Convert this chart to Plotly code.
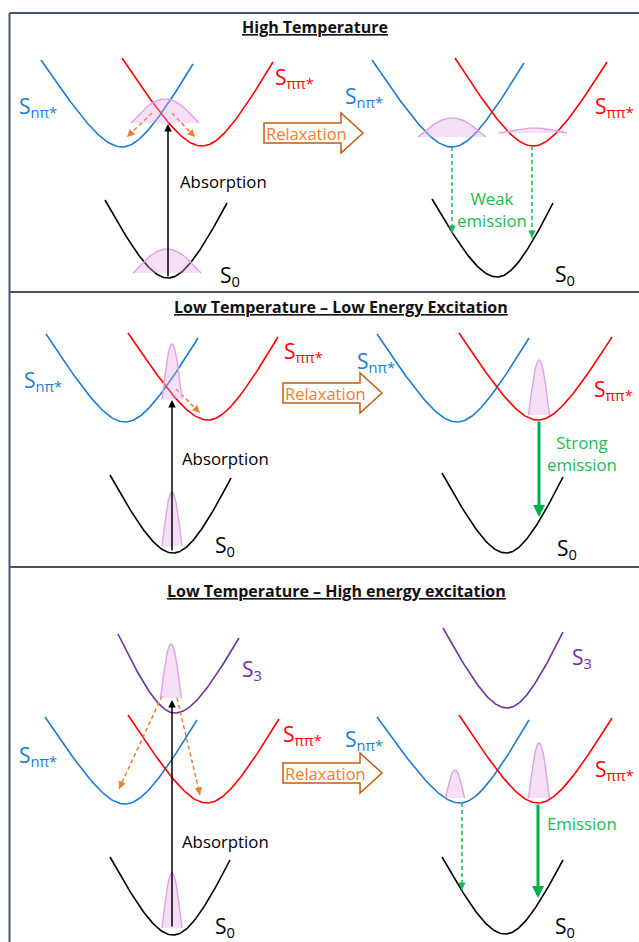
import numpy as np
import plotly.graph_objects as go

W, H = 639, 942

# ---------------- data ----------------
# potential-energy wells: left end, minimum, right end (pixel-space diagram coords)
well_state = ["nπ", "ππ", "S0", "nπ", "ππ", "S0",
              "nπ", "ππ", "S0", "nπ", "ππ", "S0",
              "S3", "nπ", "ππ", "S0", "S3", "nπ", "ππ", "S0"]
well_left_x = [41, 122, 105, 372, 455, 432, 46, 128, 110, 377, 459, 442, 118, 45, 128, 110, 443, 377, 459, 442]
well_left_y = [60, 58, 200, 60, 58, 199, 334, 333, 475, 334, 333, 473, 634, 717, 715, 857, 628, 717, 715, 857]
well_min_x = [122, 202, 168, 452, 533, 497, 125, 208, 173, 457, 538, 506, 175, 125, 207, 173, 507, 460, 538, 505]
well_min_y = [147, 146, 278, 147, 146, 277, 422, 420, 553, 422, 420, 553, 713, 804, 803, 935, 708, 803, 803, 934]
well_right_x = [193, 273, 227, 524, 607, 553, 198, 278, 231, 529, 612, 563, 239, 197, 279, 230, 563, 529, 612, 563]
well_right_y = [64, 62, 203, 63, 62, 203, 338, 337, 478, 338, 337, 477, 638, 720, 719, 860, 632, 720, 718, 860]

# vibrational population bumps: centre, half-width, base level, peak level
pop_center = [165, 167, 452, 533, 172, 172, 539, 171, 172, 455, 539]
pop_halfw = [34, 34, 34, 34, 10, 10, 10.5, 10.5, 10, 9.5, 10.5]
pop_base = [123, 273, 137, 133, 399, 546, 415, 698, 928, 798, 798]
pop_peak = [99, 249, 118, 128, 344, 492, 360, 644, 873, 770, 743]

# arrows: kind, start, end
arrow_kind = ["absorb", "absorb", "absorb",
              "relax", "relax", "relax", "relax", "relax",
              "weak", "weak", "weak",
              "strong", "strong"]
arrow_x0 = [168, 172, 172, 152, 172, 176, 162, 177, 452, 532, 462, 539, 538]
arrow_y0 = [278, 552, 928, 113, 113, 389, 696, 698, 147, 146, 803, 420, 803]
arrow_x1 = [168, 172, 172, 127, 195, 200, 119, 200, 452, 532, 462, 539, 538]
arrow_y1 = [124, 400, 700, 137, 137, 413, 789, 795, 233, 238, 890, 517, 898]

# block "Relaxation" arrows: left end, tip, centre line
relax_left = [264, 283, 283]
relax_tip = [363, 382, 382]
relax_cy = [133, 393, 773]

# panel titles
titles = ["High Temperature",
          "Low Temperature – Low Energy Excitation",
          "Low Temperature – High energy excitation"]
title_x = [315, 341, 336]
title_y = [27, 307, 591]

# state labels
label_state = ["nπ", "ππ", "S0", "nπ", "ππ", "S0",
               "nπ", "ππ", "S0", "nπ", "ππ", "S0",
               "S3", "nπ", "ππ", "S0", "S3", "nπ", "ππ", "S0"]
label_x = [17, 273, 218, 343, 593, 553, 22, 282, 213, 355, 592, 555, 240, 17, 281, 213, 570, 343, 593, 553]
label_y = [103, 74, 272, 93, 103, 271, 377, 348, 542, 358, 386, 545, 666, 752, 731, 923, 654, 736, 766, 923]

# other texts
text_str = ["Absorption", "Absorption", "Absorption", "Weak<br>emission", "Strong<br>emission", "Emission"]
text_kind = ["absorb", "absorb", "absorb", "green", "green", "green"]
text_x = [178, 180, 180, 492, 582, 582]
text_y = [181, 458, 841, 209, 453, 823]

# ---------------- styles ----------------
COL = {"nπ": "#1a7dd0", "ππ": "#ff0000", "S0": "#000000", "S3": "#7030a0"}
LABEL = {"nπ": "S<sub>nπ*</sub>", "ππ": "S<sub>ππ*</sub>", "S0": "S<sub>0</sub>", "S3": "S<sub>3</sub>"}
ARROW_COL = {"absorb": "#000000", "relax": "#ed7d31", "weak": "#1db954", "strong": "#00b050"}
ARROW_W = {"absorb": 1.5, "relax": 1.5, "weak": 1.5, "strong": 3}
ARROW_DASH = {"absorb": False, "relax": True, "weak": True, "strong": False}
BORDER = "#44546a"
FONT = "Open Sans"
ROUND = 32.0  # rounding radius of the well bottoms

fig = go.Figure()

# wells
for s, lx, ly, mx, my, rx, ry in zip(well_state, well_left_x, well_left_y, well_min_x, well_min_y,
                                     well_right_x, well_right_y):
    xs, ys = [], []
    for ex, ey, side in ((lx, ly, -1), (rx, ry, 1)):
        D = abs(ex - mx)
        Hh = my - ey
        A = Hh / (np.sqrt(1 + (D / ROUND) ** 2) - 1)
        d = np.linspace(0, D, 60)
        yy = my - A * (np.sqrt(1 + (d / ROUND) ** 2) - 1)
        if side < 0:
            xs += list(mx - d[::-1]); ys += list(yy[::-1])
        else:
            xs += list(mx + d[1:]); ys += list(yy[1:])
    fig.add_trace(go.Scatter(x=xs, y=ys, mode="lines", line=dict(color=COL[s], width=1.6),
                             hoverinfo="skip", showlegend=False))

# arrows (lines)
annotations = []
for k, x0, y0, x1, y1 in zip(arrow_kind, arrow_x0, arrow_y0, arrow_x1, arrow_y1):
    c, w = ARROW_COL[k], ARROW_W[k]
    if ARROW_DASH[k]:
        fig.add_trace(go.Scatter(x=[x0, x1], y=[y0, y1], mode="lines",
                                 line=dict(color=c, width=w, dash="4px,3px"),
                                 hoverinfo="skip", showlegend=False))
        L = np.hypot(x1 - x0, y1 - y0)
        ux, uy = (x1 - x0) / L, (y1 - y0) / L
        ax, ay = x1 - 5 * ux, y1 - 5 * uy
    else:
        ax, ay = x0, y0
    annotations.append(dict(x=x1, y=y1, ax=ax, ay=ay, xref="x", yref="y", axref="x", ayref="y",
                            showarrow=True, arrowhead=2, arrowsize=1 if w < 2 else 0.8,
                            arrowwidth=w, arrowcolor=c, standoff=0, text=""))

# population bumps
for c0, hw, b, p in zip(pop_center, pop_halfw, pop_base, pop_peak):
    u = np.linspace(-1, 1, 81)
    xx = c0 + hw * u
    g = (1 - u ** 2) ** 1.2
    yy = b - (b - p) * g
    fig.add_trace(go.Scatter(x=list(xx), y=list(yy), mode="lines",
                             fill="toself", fillcolor="rgba(225,165,225,0.36)",
                             line=dict(width=0), hoverinfo="skip", showlegend=False))
    fig.add_trace(go.Scatter(x=xx, y=yy, mode="lines", line=dict(color="#dea2e6", width=1.4),
                             hoverinfo="skip", showlegend=False))

# relaxation block arrows
shapes = []
for lft, tip, cy in zip(relax_left, relax_tip, relax_cy):
    hb = tip - 22
    path = (f"M {lft},{cy-10} L {hb},{cy-10} L {hb},{cy-20} L {tip},{cy} "
            f"L {hb},{cy+20} L {hb},{cy+10} L {lft},{cy+10} Z")
    shapes.append(dict(type="path", path=path, xref="x", yref="y",
                       line=dict(color="#c55a11", width=1.5), fillcolor="white", layer="above"))
    annotations.append(dict(x=(lft + hb) / 2 + 4, y=cy, xref="x", yref="y", showarrow=False,
                            text="Relaxation", font=dict(family=FONT, size=16.5, color="#ed7d31"),
                            xanchor="center", yanchor="middle"))

# borders
shapes.append(dict(type="line", x0=9.5, x1=9.5, y0=13, y1=H + 5, xref="x", yref="y",
                   line=dict(color=BORDER, width=2)))
for yb in (13, 292, 567):
    shapes.append(dict(type="line", x0=9.5, x1=W + 5, y0=yb, y1=yb, xref="x", yref="y",
                       line=dict(color=BORDER, width=2)))

# titles
for t, x, y in zip(titles, title_x, title_y):
    annotations.append(dict(x=x, y=y, xref="x", yref="y", showarrow=False,
                            text=f"<b><u>{t}</u></b>", font=dict(family=FONT, size=16, color="#111"),
                            xanchor="center", yanchor="middle"))

# state labels
for s, x, y in zip(label_state, label_x, label_y):
    annotations.append(dict(x=x, y=y, xref="x", yref="y", showarrow=False, text=LABEL[s],
                            font=dict(family=FONT, size=21, color=COL[s]),
                            xanchor="left", yanchor="middle", yshift=-4))

# other texts
for t, k, x, y in zip(text_str, text_kind, text_x, text_y):
    if k == "absorb":
        annotations.append(dict(x=x, y=y, xref="x", yref="y", showarrow=False, text=t,
                                font=dict(family=FONT, size=16.8, color="#000"),
                                xanchor="left", yanchor="middle"))
    else:
        annotations.append(dict(x=x, y=y, xref="x", yref="y", showarrow=False, text=t,
                                font=dict(family=FONT, size=16.8, color="#1db954"),
                                xanchor="center", yanchor="middle", align="center"))

fig.update_layout(
    width=W, height=H, margin=dict(l=0, r=0, t=0, b=0),
    paper_bgcolor="white", plot_bgcolor="white",
    xaxis=dict(range=[0, W], visible=False, fixedrange=True),
    yaxis=dict(range=[H, 0], visible=False, fixedrange=True),
    shapes=shapes, annotations=annotations, showlegend=False,
)
fig.write_html("out.html", config={"displayModeBar": False},
               post_script="document.body.style.margin='0px';document.body.style.overflow='hidden';")
